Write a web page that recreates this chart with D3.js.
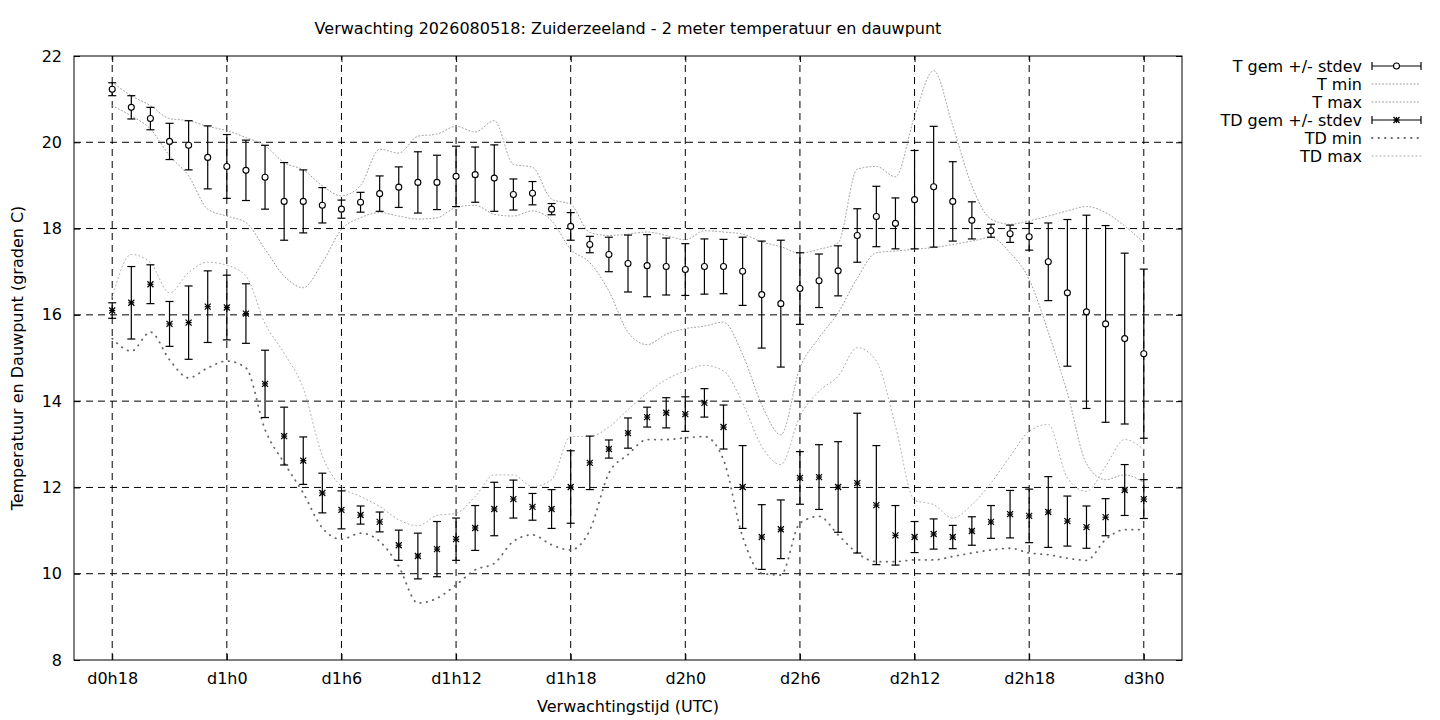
<!DOCTYPE html>
<html>
<head>
<meta charset="utf-8">
<script src="https://cdn.jsdelivr.net/npm/d3@7"></script>
<style>
  body { margin: 0; background: #fff; }
  text { font-family: "DejaVu Sans", sans-serif; fill: #000; }
</style>
</head>
<body>
<svg id="chart" width="1440" height="720"></svg>
<script>
// forecast hours since d0h0
const hours = [18, 19, 20, 21, 22, 23, 24, 25, 26, 27, 28, 29, 30, 31, 32, 33, 34, 35, 36,
  37, 38, 39, 40, 41, 42, 43, 44, 45, 46, 47, 48, 49, 50, 51, 52, 53, 54, 55, 56, 57, 58,
  59, 60, 61, 62, 63, 64, 65, 66, 67, 68, 69, 70, 71, 72];

// temperature: mean, stdev, min, max
const tMean = [21.23, 20.81, 20.55, 20.02, 19.93, 19.65, 19.44, 19.35, 19.19, 18.63, 18.63,
  18.54, 18.45, 18.61, 18.81, 18.96, 19.07, 19.07, 19.21, 19.25, 19.17, 18.79, 18.82, 18.45,
  18.05, 17.63, 17.40, 17.19, 17.14, 17.12, 17.05, 17.12, 17.12, 17.01, 16.47, 16.26, 16.61,
  16.79, 17.02, 17.84, 18.28, 18.12, 18.67, 18.97, 18.63, 18.19, 17.95, 17.88, 17.81, 17.23,
  16.51, 16.07, 15.79, 15.45, 15.10];
const tSd = [0.15, 0.27, 0.26, 0.42, 0.57, 0.73, 0.74, 0.70, 0.74, 0.90, 0.73, 0.41, 0.21,
  0.23, 0.41, 0.47, 0.71, 0.63, 0.70, 0.64, 0.77, 0.36, 0.27, 0.13, 0.32, 0.19, 0.40, 0.66,
  0.72, 0.66, 0.60, 0.64, 0.63, 0.79, 1.24, 1.47, 0.83, 0.62, 0.58, 0.62, 0.70, 0.59, 1.14,
  1.40, 0.92, 0.43, 0.15, 0.20, 0.31, 0.90, 1.70, 2.24, 2.28, 1.98, 1.96];
const tMin = [20.85, 20.61, 20.31, 19.69, 19.22, 18.45, 18.29, 18.14, 17.52, 16.90, 16.63,
  17.21, 17.98, 18.25, 18.37, 18.29, 18.22, 18.25, 18.49, 18.54, 18.33, 18.29, 18.41, 18.18,
  17.52, 17.21, 16.55, 15.60, 15.31, 15.55, 15.68, 15.74, 15.83, 15.08, 13.92, 13.22, 14.77,
  15.47, 16.05, 16.85, 17.44, 17.48, 17.52, 17.56, 17.63, 17.71, 17.79, 17.44, 16.82, 15.60,
  14.19, 12.55, 12.18, 12.29, 12.12];
const tMax = [21.39, 21.08, 20.85, 20.55, 20.50, 20.37, 20.27, 20.11, 19.92, 19.53, 19.36,
  18.99, 18.76, 19.00, 19.84, 19.75, 20.14, 20.19, 20.37, 20.24, 20.50, 19.49, 19.42, 18.68,
  18.56, 17.91, 17.84, 17.87, 17.92, 17.84, 17.74, 17.95, 17.92, 17.87, 17.69, 17.58, 17.43,
  17.52, 17.67, 19.38, 19.44, 19.20, 20.60, 21.66, 20.38, 18.99, 18.22, 18.10, 18.18, 18.29,
  18.41, 18.51, 18.37, 18.06, 17.67];

// dew point: mean, stdev, min, max
const tdMean = [16.10, 16.28, 16.71, 15.79, 15.82, 16.19, 16.17, 16.03, 14.40, 13.19, 12.62,
  11.87, 11.48, 11.36, 11.20, 10.66, 10.41, 10.57, 10.80, 11.06, 11.50, 11.73, 11.55, 11.50,
  12.01, 12.57, 12.89, 13.26, 13.63, 13.73, 13.70, 13.96, 13.40, 12.01, 10.85, 11.03, 12.22,
  12.24, 12.01, 12.10, 11.59, 10.89, 10.85, 10.92, 10.85, 10.99, 11.20, 11.38, 11.34, 11.43,
  11.22, 11.08, 11.31, 11.94, 11.73];
const tdSd = [0.18, 0.84, 0.45, 0.52, 0.85, 0.83, 0.75, 0.69, 0.78, 0.67, 0.55, 0.46, 0.44,
  0.21, 0.23, 0.35, 0.53, 0.64, 0.49, 0.52, 0.62, 0.44, 0.31, 0.45, 0.84, 0.62, 0.21, 0.35,
  0.23, 0.35, 0.40, 0.33, 0.51, 0.96, 0.75, 0.68, 0.61, 0.75, 1.05, 1.62, 1.38, 0.69, 0.36,
  0.35, 0.27, 0.33, 0.38, 0.55, 0.62, 0.82, 0.58, 0.49, 0.43, 0.59, 0.45];
const tdMin = [15.45, 15.16, 15.60, 14.96, 14.54, 14.77, 14.93, 14.77, 13.34, 12.57, 11.87,
  11.06, 10.80, 10.94, 10.75, 10.17, 9.32, 9.43, 9.74, 10.09, 10.24, 10.75, 10.90, 10.67,
  10.55, 11.01, 12.33, 12.76, 13.11, 13.11, 13.15, 13.18, 12.64, 10.86, 10.01, 9.97, 11.17,
  11.33, 10.90, 10.48, 10.28, 10.28, 10.32, 10.32, 10.40, 10.48, 10.55, 10.59, 10.48, 10.44,
  10.36, 10.31, 10.79, 11.02, 11.02];
const tdMax = [16.40, 17.40, 17.21, 16.51, 16.98, 17.22, 17.15, 16.90, 15.80, 15.11, 14.30,
  12.73, 12.02, 11.79, 11.56, 11.25, 11.11, 11.35, 11.40, 11.79, 12.29, 12.29, 12.02, 12.18,
  13.18, 13.18, 13.40, 13.80, 14.19, 14.50, 14.70, 14.83, 14.70, 13.96, 12.95, 12.53, 13.65,
  14.23, 14.58, 15.24, 14.93, 13.42, 11.70, 11.60, 11.29, 11.60, 12.10, 12.72, 13.30, 13.46,
  12.22, 11.91, 12.49, 13.11, 12.88];

// axis ticks
const xTickValues = [18, 24, 30, 36, 42, 48, 54, 60, 66, 72];
const xTickLabels = ['d0h18', 'd1h0', 'd1h6', 'd1h12', 'd1h18', 'd2h0', 'd2h6', 'd2h12', 'd2h18', 'd3h0'];
const yTickValues = [8, 10, 12, 14, 16, 18, 20, 22];

const titleText = 'Verwachting 2026080518: Zuiderzeeland - 2 meter temperatuur en dauwpunt';
const legendLabels = ['T gem +/- stdev', 'T min', 'T max', 'TD gem +/- stdev', 'TD min', 'TD max'];

// plot box
let plotL = 74, plotR = 1182, plotT = 56, plotB = 660;
let fontSize = 16;

let svg = d3.select('#chart');

let x = d3.scaleLinear().domain([16, 74]).range([plotL, plotR]);
let y = d3.scaleLinear().domain([8, 22]).range([plotB, plotT]);

// line styles for the min / max curves
let styles = {
  tMin:  { stroke: '#9a9a9a', dash: '1,2.5', width: 1 },
  tMax:  { stroke: '#9a9a9a', dash: '1,2.5', width: 1 },
  tdMin: { stroke: '#666666', dash: '0.5,6', width: 1.8 },
  tdMax: { stroke: '#a8a8a8', dash: '1,3', width: 1 }
};

// grid (dashed, black)
let grid = svg.append('g').attr('class', 'grid');
grid.selectAll('line.gy')
  .data(yTickValues.filter(v => v > 8 && v < 22))
  .enter().append('line')
  .attr('x1', plotL).attr('x2', plotR)
  .attr('y1', d => y(d)).attr('y2', d => y(d))
  .style('stroke', '#000').style('stroke-width', 1)
  .style('stroke-dasharray', '7,5');
grid.selectAll('line.gx')
  .data(xTickValues)
  .enter().append('line')
  .attr('y1', plotB).attr('y2', plotT)
  .attr('x1', d => x(d)).attr('x2', d => x(d))
  .style('stroke', '#000').style('stroke-width', 1)
  .style('stroke-dasharray', '7,5');

// axes with inward ticks
svg.append('g')
  .attr('transform', `translate(0,${plotB})`)
  .call(d3.axisBottom(x).tickValues(xTickValues)
    .tickFormat((d, i) => xTickLabels[i]).tickSize(-6).tickPadding(13));
svg.append('g')
  .attr('transform', `translate(0,${plotT})`)
  .call(d3.axisTop(x).tickValues(xTickValues).tickFormat('').tickSize(-6));
svg.append('g')
  .attr('transform', `translate(${plotL},0)`)
  .call(d3.axisLeft(y).tickValues(yTickValues).tickSize(-6).tickPadding(12));
svg.append('g')
  .attr('transform', `translate(${plotR},0)`)
  .call(d3.axisRight(y).tickValues(yTickValues).tickFormat('').tickSize(-6));

svg.selectAll('.domain').remove();
svg.selectAll('.tick text')
  .style('font-size', fontSize + 'px')
  .style('font-family', '"DejaVu Sans", sans-serif');
svg.selectAll('.tick line').style('stroke', '#000');

// border
svg.append('rect')
  .attr('x', plotL).attr('y', plotT)
  .attr('width', plotR - plotL).attr('height', plotB - plotT)
  .style('fill', 'none').style('stroke', '#000').style('stroke-width', 1);

// rows of data
let rows = hours.map((h, i) => ({
  h: h,
  t: tMean[i], tsd: tSd[i], tmin: tMin[i], tmax: tMax[i],
  td: tdMean[i], tdsd: tdSd[i], tdmin: tdMin[i], tdmax: tdMax[i]
}));

// smooth min / max curves
function curveLine(key) {
  return d3.line()
    .x(d => x(d.h))
    .y(d => y(d[key]))
    .curve(d3.curveMonotoneX);
}

let curves = [['tmin', styles.tMin], ['tmax', styles.tMax], ['tdmin', styles.tdMin], ['tdmax', styles.tdMax]];
curves.forEach(c => {
  svg.append('path')
    .datum(rows)
    .attr('d', curveLine(c[0]))
    .style('fill', 'none')
    .style('stroke', c[1].stroke)
    .style('stroke-width', c[1].width)
    .style('stroke-dasharray', c[1].dash)
    .style('stroke-linecap', 'round');
});

// error bars
let capW = 4;
function errorBars(meanKey, sdKey) {
  let g = svg.append('g');
  let bars = g.selectAll('g')
    .data(rows)
    .enter().append('g');
  bars.append('line')
    .attr('x1', d => x(d.h)).attr('x2', d => x(d.h))
    .attr('y1', d => y(d[meanKey] - d[sdKey]))
    .attr('y2', d => y(d[meanKey] + d[sdKey]));
  bars.append('line')
    .attr('x1', d => x(d.h) - capW).attr('x2', d => x(d.h) + capW)
    .attr('y1', d => y(d[meanKey] + d[sdKey]))
    .attr('y2', d => y(d[meanKey] + d[sdKey]));
  bars.append('line')
    .attr('x1', d => x(d.h) - capW).attr('x2', d => x(d.h) + capW)
    .attr('y1', d => y(d[meanKey] - d[sdKey]))
    .attr('y2', d => y(d[meanKey] - d[sdKey]));
  g.selectAll('line').style('stroke', '#000').style('stroke-width', 1.2);
  return g;
}

errorBars('t', 'tsd');
errorBars('td', 'tdsd');

// markers
function drawCircle(sel, cx, cy) {
  sel.append('circle')
    .attr('cx', cx).attr('cy', cy).attr('r', 3)
    .style('fill', '#fff').style('stroke', '#000').style('stroke-width', 1.1);
}
function drawStar(sel, cx, cy) {
  let s = 3;
  let segs = [[-s, 0, s, 0], [0, -s, 0, s], [-s, -s, s, s], [-s, s, s, -s]];
  segs.forEach(p => {
    sel.append('line')
      .attr('x1', cx + p[0]).attr('y1', cy + p[1])
      .attr('x2', cx + p[2]).attr('y2', cy + p[3])
      .style('stroke', '#000').style('stroke-width', 1.2);
  });
}

let marks = svg.append('g');
rows.forEach(d => {
  drawCircle(marks, x(d.h), y(d.t));
  drawStar(marks, x(d.h), y(d.td));
});

// title and axis labels
svg.append('text')
  .attr('x', (plotL + plotR) / 2).attr('y', 34)
  .attr('text-anchor', 'middle')
  .style('font-size', fontSize + 'px')
  .text(titleText);

svg.append('text')
  .attr('x', (plotL + plotR) / 2).attr('y', 712)
  .attr('text-anchor', 'middle')
  .style('font-size', fontSize + 'px')
  .text('Verwachtingstijd (UTC)');

svg.append('text')
  .attr('transform', `translate(23,${(plotT + plotB) / 2}) rotate(-90)`)
  .attr('text-anchor', 'middle')
  .style('font-size', fontSize + 'px')
  .text('Temperatuur en Dauwpunt (graden C)');

// legend
let legX = 1362, sampleL = 1372, sampleR = 1421, legY = 66, legStep = 18;
let legend = svg.append('g');
legendLabels.forEach((lab, i) => {
  let ly = legY + i * legStep;
  legend.append('text')
    .attr('x', legX).attr('y', ly).attr('dy', '0.35em')
    .attr('text-anchor', 'end')
    .style('font-size', fontSize + 'px')
    .text(lab);
  if (i === 0 || i === 3) {
    [[sampleL, ly, sampleR, ly], [sampleL, ly - capW, sampleL, ly + capW], [sampleR, ly - capW, sampleR, ly + capW]]
      .forEach(p => {
        legend.append('line')
          .attr('x1', p[0]).attr('y1', p[1]).attr('x2', p[2]).attr('y2', p[3])
          .style('stroke', '#000').style('stroke-width', 1.2);
      });
    if (i === 0) drawCircle(legend, (sampleL + sampleR) / 2, ly);
    else drawStar(legend, (sampleL + sampleR) / 2, ly);
  } else {
    let st = [null, styles.tMin, styles.tMax, null, styles.tdMin, styles.tdMax][i];
    legend.append('line')
      .attr('x1', sampleL).attr('y1', ly).attr('x2', sampleR).attr('y2', ly)
      .style('stroke', st.stroke).style('stroke-width', st.width)
      .style('stroke-dasharray', st.dash)
      .style('stroke-linecap', 'round');
  }
});
</script>
</body>
</html>
